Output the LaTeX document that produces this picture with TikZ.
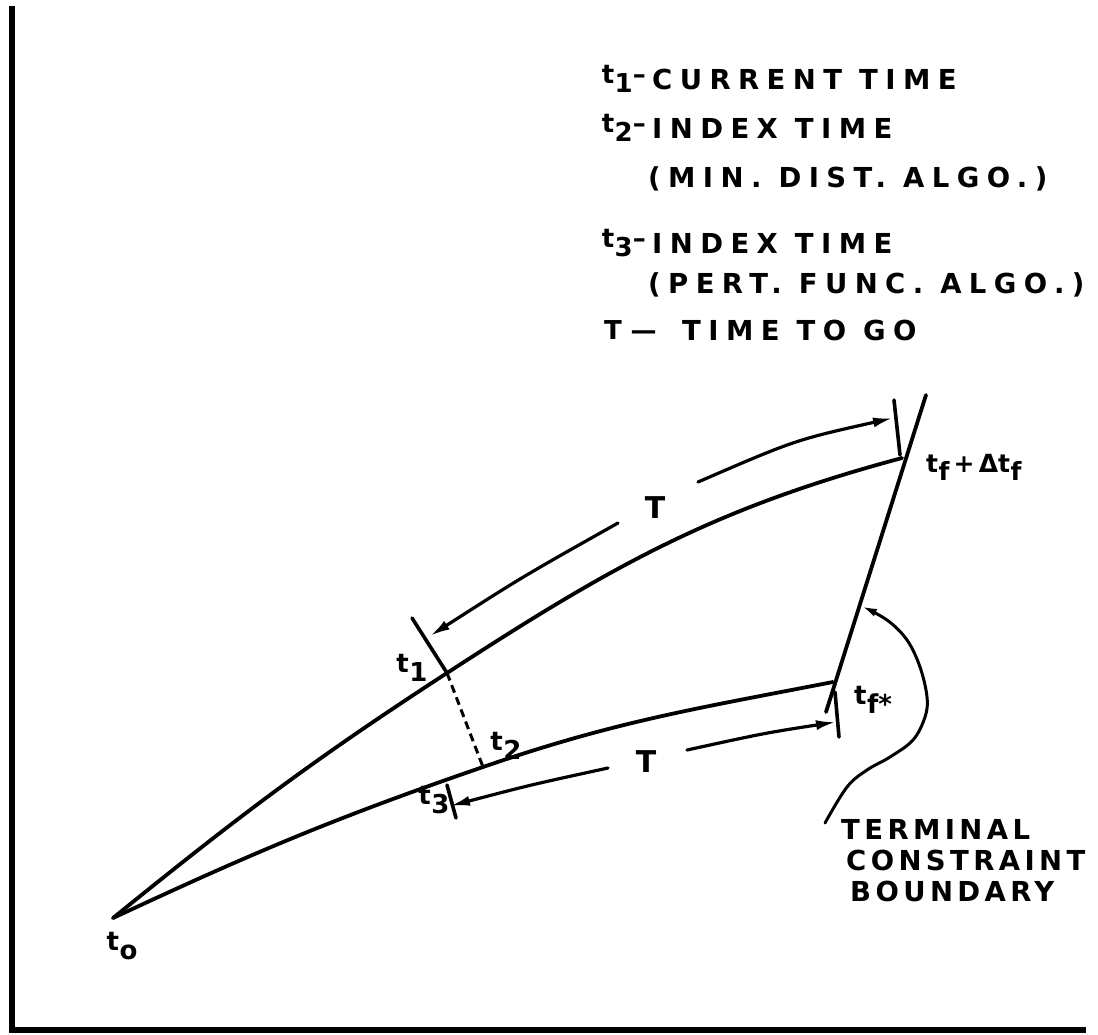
\documentclass[tikz,border=0pt]{standalone}
\usepackage{fontspec}
\setmainfont{DejaVu Sans}
\newfontfamily\lett{DejaVu Sans}[LetterSpace=27]
\newfontfamily\letb{DejaVu Sans}[LetterSpace=16]
\usetikzlibrary{arrows.meta}
\newcommand\tsb[1]{t\kern0.5pt\raisebox{-0.6ex}{#1}}
\begin{document}
\begin{tikzpicture}[x=1pt,y=-1pt,
  traj/.style={line width=3.8pt, line cap=round},
  tick/.style={line width=3.6pt, line cap=round},
  arr/.style={line width=3.2pt, line cap=round, -{Latex[length=20pt,width=10pt]}},
  leg/.style={anchor=west, inner sep=0pt, font=\lett\bfseries\fontsize{27.5}{30}\selectfont},
  term/.style={anchor=west, inner sep=0pt, font=\letb\bfseries\fontsize{27.5}{30}\selectfont},
  lab/.style={inner sep=0pt, font=\bfseries\fontsize{26}{30}\selectfont}]
\useasboundingbox (0,0) rectangle (1098,1034);
% frame
\coordinate (b1) at (12,6); \coordinate (b2) at (12,1030); \coordinate (b3) at (1086,1030);
\draw[line width=6pt] (b1) -- (b2) -- (b3);
% legend
\node[lab, anchor=east] (k1) at (646,79) {\tsb{1}--};
\node[leg] (l1) at (652,79) {CURRENT TIME};
\node[lab, anchor=east] (k2) at (646,128) {\tsb{2}--};
\node[leg] (l2) at (652,128) {INDEX TIME};
\node[leg] (m2) at (648,179) {(MIN. DIST. ALGO.)};
\node[lab, anchor=east] (k3) at (646,243) {\tsb{3}--};
\node[leg] (l3) at (652,243) {INDEX TIME};
\node[leg] (m3) at (648,285) {(PERT. FUNC. ALGO.)};
\node[lab, anchor=west] (kT) at (604,330) {T\,\,---};
\node[leg] (lT) at (682,330) {TIME TO GO};
% key points
\coordinate (t0) at (113,918);
\coordinate (t1p) at (447,673);
\coordinate (t2p) at (483,767);
\coordinate (tfd) at (902,458);
\coordinate (tfs) at (833,682);
\coordinate (btop) at (926,395);
\coordinate (bbot) at (826,712);
% trajectories
\draw[traj] (t0) to[out=39,in=213] (t1p) to[out=33,in=195] (tfd);
\draw[traj] (t0) to[out=25,in=199] (t2p) to[out=19,in=191] (tfs);
\draw[traj] (btop) -- (bbot);
\draw[line width=3pt, dash pattern=on 8pt off 5pt] (t1p) -- (t2p);
% ticks
\coordinate (k1a) at (412,618);
\coordinate (kfa) at (894,400); \coordinate (kfb) at (900,455);
\coordinate (ksa) at (835,692); \coordinate (ksb) at (839,737);
\coordinate (k3a) at (447,785); \coordinate (k3b) at (456,818);
\draw[tick] (k1a) -- (t1p);
\draw[tick] (kfa) -- (kfb);
\draw[tick] (ksa) -- (ksb);
\draw[tick] (k3a) -- (k3b);
% T arrows
\coordinate (ua1) at (618,523); \coordinate (ua1t) at (430,636);
\coordinate (ua2) at (698,482); \coordinate (ua2t) at (893,418);
\coordinate (la1) at (608,768); \coordinate (la1t) at (450,806);
\coordinate (la2) at (687,750); \coordinate (la2t) at (836,722);
\draw[arr] (ua1) .. controls (522,577) .. (ua1t);
\draw[arr] (ua2) .. controls (795,440) .. (ua2t);
\draw[arr] (la1) .. controls (530,785) .. (la1t);
\draw[arr] (la2) .. controls (765,733) .. (la2t);
\node[lab, font=\bfseries\fontsize{30}{32}\selectfont] (LT1) at (655,508) {T};
\node[lab, font=\bfseries\fontsize{30}{32}\selectfont] (LT2) at (646,762) {T};
% point labels
\node[lab] (L1) at (412,668) {\tsb{1}};
\node[lab] (L2) at (506,746) {\tsb{2}};
\node[lab] (L3) at (434,800) {\tsb{3}};
\node[lab] (L0) at (122,946) {\tsb{o}};
\node[lab] (Lfs) at (873,700) {\tsb{f*}};
\node[lab, anchor=west, font=\bfseries\fontsize{25}{28}\selectfont] (Lfd) at (926,467) {\tsb{f}\,+\,Δ\tsb{f}};
% terminal constraint arrow
\coordinate (tc0) at (825,823); \coordinate (tc1) at (861,606);
\draw[line width=3pt, line cap=round, -{Latex[length=16pt,width=8pt]}] plot[smooth, tension=0.6] coordinates {(tc0) (847,787) (867,770) (890,757) (913,740) (925,717) (927,697) (920,667) (907,640) (887,620) (tc1)};
\node[term] (n1) at (841,829) {TERMINAL};
\node[term] (n2) at (846,860) {CONSTRAINT};
\node[term] (n3) at (850,891) {BOUNDARY};
\end{tikzpicture}
\end{document}
